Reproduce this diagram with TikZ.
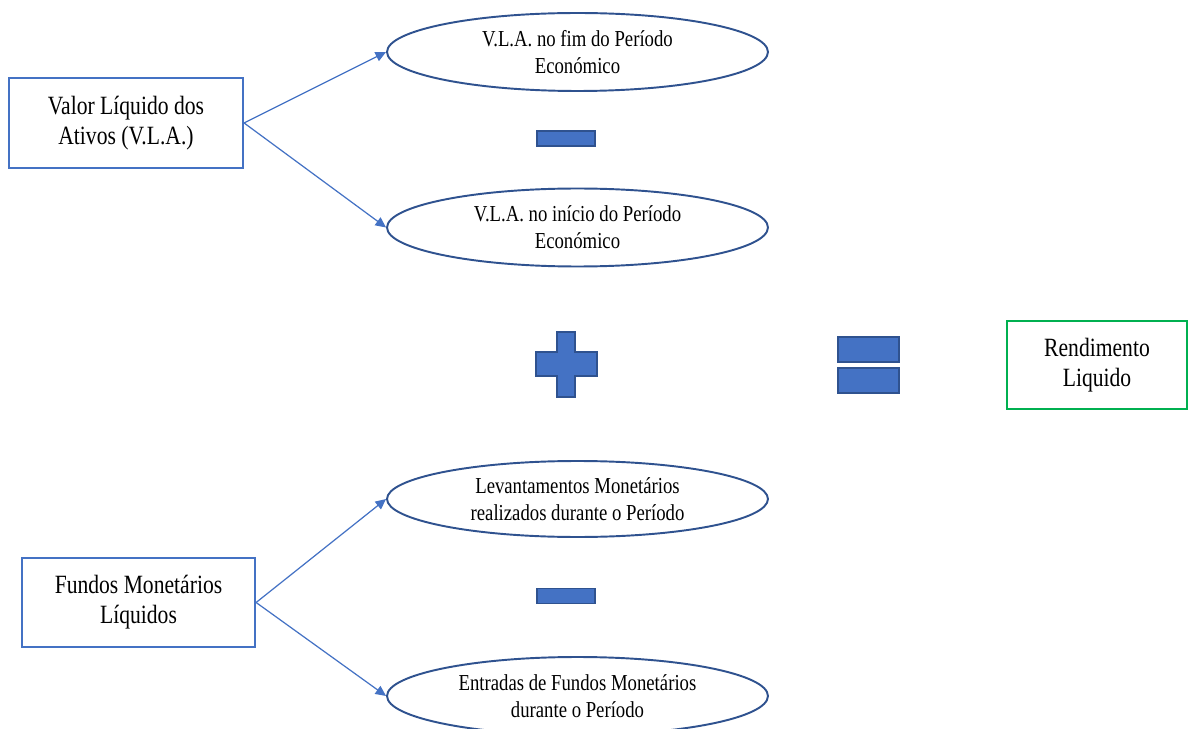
\documentclass[tikz,border=0pt]{standalone}
\usepackage{fontspec}
\usepackage{xcolor}
\usetikzlibrary{arrows.meta,positioning,shapes.geometric}
\newfontfamily\diagfont[FakeStretch=0.82]{Liberation Serif}
\definecolor{accentblue}{HTML}{4472C4}
\definecolor{edgeblue}{HTML}{2F528F}
\definecolor{accentgreen}{HTML}{00B050}
\tikzset{
  source/.style={
    draw=accentblue,
    line width=1.3pt,
    minimum width=4.66cm,
    minimum height=1.78cm,
    align=center,
    font=\diagfont\fontsize{15}{17}\selectfont
  },
  term/.style={
    draw=edgeblue,
    ellipse,
    line width=1.1pt,
    minimum width=7.62cm,
    minimum height=1.56cm,
    inner sep=0pt,
    align=center,
    font=\diagfont\fontsize{13}{15.2}\selectfont
  },
  result/.style={
    draw=accentgreen,
    line width=1.3pt,
    minimum width=3.6cm,
    minimum height=1.76cm,
    align=center,
    font=\diagfont\fontsize{15}{17}\selectfont
  },
  bar/.style={
    draw=edgeblue,
    fill=accentblue,
    line width=0.6pt,
    inner sep=0pt
  },
  flow/.style={-{Triangle[length=6pt,width=5.5pt]}, line width=0.7pt, draw=accentblue}
}

\begin{document}
\begin{tikzpicture}[x=0.02cm,y=-0.02cm]
  \useasboundingbox (0,0) rectangle (1189,729);

  \node[source, minimum width=4.68cm, minimum height=1.8cm] (vla) at (126,123) {Valor Líquido dos\\Ativos (V.L.A.)};
  \node[source] (fml) at (138.5,602.5) {Fundos Monetários\\Líquidos};

  \node[term] (fim) at (577.5,52) {V.L.A. no fim do Período\\Económico};
  \node[term] (inicio) at (577.5,227.5) {V.L.A. no início do Período\\Económico};
  \node[term, minimum height=1.52cm] (levant) at (577.5,499) {Levantamentos Monetários\\realizados durante o Período};
  \node[term] (entradas) at (577.5,696) {Entradas de Fundos Monetários\\durante o Período};

  \node[result] (rend) at (1097,365) {Rendimento\\Liquido};

  \node[bar, minimum width=1.16cm, minimum height=0.3cm] (minusa) at (566,138.5) {};
  \node[bar, minimum width=1.16cm, minimum height=0.3cm] (minusb) at (566,596) {};
  \node[bar, minimum width=1.22cm, minimum height=0.5cm] (eqa) at (868.5,349.5) {};
  \node[bar, minimum width=1.22cm, minimum height=0.5cm] (eqb) at (868.5,380.5) {};
  \draw[bar] (557,332) -- (575,332) -- (575,352) -- (597,352) -- (597,376) -- (575,376)
    -- (575,397) -- (557,397) -- (557,376) -- (536,376) -- (536,352) -- (557,352) -- cycle;

  \draw[flow] (vla.east) -- (fim.west);
  \draw[flow] (vla.east) -- (inicio.west);
  \draw[flow] (fml.east) -- (levant.west);
  \draw[flow] (fml.east) -- (entradas.west);
\end{tikzpicture}
\end{document}
